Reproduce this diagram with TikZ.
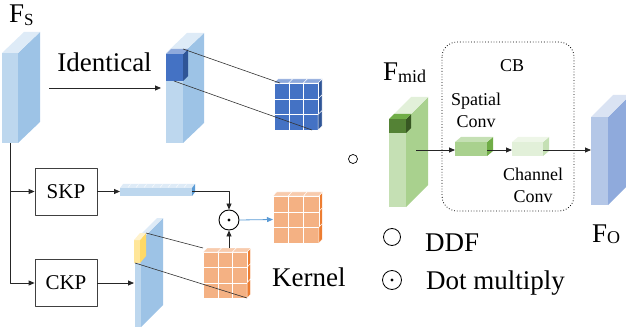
\documentclass[tikz,border=0pt]{standalone}
\usepackage{fontspec}
\setmainfont{Liberation Serif}
\usepackage{xcolor}
\usetikzlibrary{arrows.meta}
\usetikzlibrary{positioning,calc}

\definecolor{lbfront}{HTML}{BDD7EE}
\definecolor{lbside}{HTML}{9DC3E6}
\definecolor{lbtop}{HTML}{DEEBF7}
\definecolor{dbfront}{HTML}{4472C4}
\definecolor{dbside}{HTML}{2F5597}
\definecolor{dbtop}{HTML}{8FAADC}
\definecolor{orfront}{HTML}{F4B183}
\definecolor{orside}{HTML}{ED7D31}
\definecolor{ortop}{HTML}{F8CBAD}
\definecolor{yefront}{HTML}{FFE699}
\definecolor{yeside}{HTML}{FFD966}
\definecolor{yetop}{HTML}{FFF2CC}
\definecolor{grfront}{HTML}{C5E0B4}
\definecolor{grside}{HTML}{A9D18E}
\definecolor{grtop}{HTML}{E2F0D9}
\definecolor{gdfront}{HTML}{548235}
\definecolor{gdside}{HTML}{385723}
\definecolor{gdtop}{HTML}{70AD47}
\definecolor{pbfront}{HTML}{B4C7E7}
\definecolor{pbside}{HTML}{8FAADC}
\definecolor{pbtop}{HTML}{DAE3F3}
\definecolor{arrowblue}{HTML}{5B9BD5}

\begin{document}
\begin{tikzpicture}[x=1pt,y=-1pt,line join=round]
% -------------------------------------------------
% Styles
% -------------------------------------------------
\tikzset{
  cellline/.style={draw=white, line width=0.35pt},
  conn/.style={-{Triangle[length=6pt,width=5pt]}, line width=0.8pt, draw=black!85},
  proj/.style={draw=black!80, line width=0.6pt},
  opbox/.style={draw=black!75, line width=0.8pt, minimum width=62pt, minimum height=47pt, inner sep=0pt, font=\rmfamily\fontsize{21}{21}\selectfont},
  lbl/.style={font=\rmfamily\fontsize{27}{27}\selectfont, inner sep=0pt},
  smalllbl/.style={font=\rmfamily\fontsize{18}{22}\selectfont, inner sep=0pt, align=center},
  opcircle/.style={circle, draw=black, line width=0.9pt, inner sep=0pt},
}
\useasboundingbox (0,0) rectangle (626,331);
% -------------------------------------------------
% Input F_S and identical branch
% -------------------------------------------------
\fill[lbfront] (2,53) rectangle (18,143);
\fill[lbside] (18,53) -- (40,32) -- (40,122) -- (18,143) -- cycle;
\fill[lbtop] (2,53) -- (24,32) -- (40,32) -- (18,53) -- cycle;
\node[lbl, anchor=base west] (fs) at (9,23) {F{\fontsize{17}{17}\selectfont\raisebox{-3pt}{S}}};
\coordinate (fsfoot) at (10,143);

\node[lbl, anchor=base] (identical) at (104.5,72) {Identical};
\coordinate (idstart) at (49,88);
\coordinate (idend) at (161,88);
\draw[conn] (idstart) -- (idend);

\fill[lbfront] (166,53) rectangle (183,143);
\fill[lbside] (183,53) -- (204,33) -- (204,123) -- (183,143) -- cycle;
\fill[lbtop] (166,53) -- (187,33) -- (204,33) -- (183,53) -- cycle;
% picked patch
\fill[dbfront] (166,54) rectangle (183,81);
\fill[dbside] (183,54) -- (188,49) -- (188,76) -- (183,81) -- cycle;
\fill[dbtop] (166,54) -- (171,49) -- (188,49) -- (183,54) -- cycle;

% blue 3x3 grid
\begin{scope}[shift={(274,83)}]
\foreach \i in {0,1,2}{
  \foreach \j in {0,1,2}{
    \filldraw[fill=dbfront, cellline] (\i*14.7,\j*15.7) rectangle ++(14.7,15.7);
  }
  \filldraw[fill=dbtop, cellline] (\i*14.7,0) -- ++(4,-4) -- ++(14.7,0) -- ++(-4,4) -- cycle;
  \filldraw[fill=dbside, cellline] (44.1,\i*15.7) -- ++(4,-4) -- ++(0,15.7) -- ++(-4,4) -- cycle;
}
\end{scope}
\draw[proj] (183,49) -- (280,83);
\draw[proj] (174,81) -- (312,130);

% -------------------------------------------------
% SKP / CKP branches
% -------------------------------------------------
\node[opbox] (skp) at (66,191.5) {SKP};
\node[opbox] (ckp) at (66,283) {CKP};
\draw[conn] (fsfoot) |- (ckp.west);
\draw[conn] (fsfoot |- skp.west) -- (skp.west);

% spatial kernel bar
\fill[lbfront] (120,188) rectangle (192,196);
\fill[lbtop] (120,188) -- (123,184) -- (195,184) -- (192,188) -- cycle;
\fill[arrowblue] (192,188) -- (195,184) -- (195,192) -- (192,196) -- cycle;
\foreach \x in {128,136,...,184}{
  \draw[white, line width=0.4pt] (\x,187.5) -- ++(2.5,-3);
}
\coordinate (barin) at (120,191.5);
\coordinate (barout) at (192,191.5);
\draw[conn] (skp.east) -- (barin);

% channel kernel slab
\fill[lbfront] (135,240) rectangle (141,327);
\fill[lbside] (141,240) -- (163,218) -- (163,305) -- (141,327) -- cycle;
\fill[lbtop] (135,240) -- (157,218) -- (163,218) -- (141,240) -- cycle;
\fill[yefront] (134,240) rectangle (140,263);
\fill[yeside] (140,240) -- (146,233) -- (146,256) -- (140,263) -- cycle;
\fill[yetop] (134,240) -- (140,233) -- (146,233) -- (140,240) -- cycle;
\coordinate (ckpin) at (134,283);
\draw[conn] (ckp.east) -- (ckpin);

% lower orange grid
\begin{scope}[shift={(203,252)}]
\foreach \i in {0,1,2}{
  \foreach \j in {0,1,2}{
    \filldraw[fill=orfront, cellline] (\i*14.7,\j*15.4) rectangle ++(14.7,15.4);
  }
  \filldraw[fill=ortop, cellline] (\i*14.7,0) -- ++(4,-4) -- ++(14.7,0) -- ++(-4,4) -- cycle;
  \filldraw[fill=orside, cellline] (44.1,\i*15.4) -- ++(3.5,-4) -- ++(0,15.4) -- ++(-3.5,4) -- cycle;
}
\end{scope}
\coordinate (kgridtop) at (229,248);
\draw[proj] (146,233) -- (203,248);
\draw[proj] (135,263) -- (247,298);

% dot multiply and kernel
\node[opcircle, minimum size=20pt] (mul) at (229,220) {};
\fill (mul.center) circle (1.6pt);
\draw[conn] (barout) -| (mul.north);
\draw[conn] (kgridtop) -- (mul.south);

\begin{scope}[shift={(273,196)}]
\foreach \i in {0,1,2}{
  \foreach \j in {0,1,2}{
    \filldraw[fill=orfront, cellline] (\i*15.3,\j*15.7) rectangle ++(15.3,15.7);
  }
  \filldraw[fill=ortop, cellline] (\i*15.3,0) -- ++(3.5,-4) -- ++(15.3,0) -- ++(-3.5,4) -- cycle;
  \filldraw[fill=orside, cellline] (45.9,\i*15.7) -- ++(3.5,-4) -- ++(0,15.7) -- ++(-3.5,4) -- cycle;
}
\end{scope}
\coordinate (kernelin) at (273,219.5);
\draw[conn, draw=arrowblue] (mul.east) -- (kernelin);
\node[lbl, anchor=base west] (kernel) at (272,286) {Kernel};

% -------------------------------------------------
% DDF marker and legend
% -------------------------------------------------
\node[opcircle, line width=0.7pt, minimum size=9pt] (ddfmark) at (353,159) {};

\node[opcircle, line width=0.8pt, minimum size=17pt] (legddf) at (392,237) {};
\node[lbl, anchor=base west] (ddftext) at (425,251) {DDF};
\node[opcircle, line width=0.8pt, minimum size=19pt] (legmul) at (392,280) {};
\fill (legmul.center) circle (1.6pt);
\node[lbl, anchor=base west] (multext) at (426,289) {Dot multiply};

% -------------------------------------------------
% F_mid, CB, F_O
% -------------------------------------------------
\node[lbl, anchor=base west] (fmid) at (383,81) {F{\fontsize{18}{18}\selectfont\raisebox{-2pt}{mid}}};
\fill[grfront] (389,119) rectangle (406,207);
\fill[grside] (406,119) -- (428,97) -- (428,185) -- (406,207) -- cycle;
\fill[grtop] (389,119) -- (411,97) -- (428,97) -- (406,119) -- cycle;
\fill[gdfront] (389,119) rectangle (406,133);
\fill[gdside] (406,119) -- (411,114) -- (411,128) -- (406,133) -- cycle;
\fill[gdtop] (389,119) -- (394,114) -- (411,114) -- (406,119) -- cycle;
\coordinate (fmidout) at (416,150);

\draw[dotted, line width=0.8pt, rounded corners=15pt] (442,42) rectangle (574,211);
\node[smalllbl, anchor=base] (cb) at (512,72) {CB};

% spatial conv
\fill[grside] (455,142) rectangle (487,156);
\fill[gdtop] (487,142) -- (493,137) -- (493,151) -- (487,156) -- cycle;
\fill[grfront] (455,142) -- (461,137) -- (493,137) -- (487,142) -- cycle;
\node[smalllbl, anchor=north] (spatial) at (476,92.5) {Spatial\\Conv};
% channel conv
\fill[grtop] (512,142) rectangle (543,156);
\fill[grfront] (543,142) -- (549,137) -- (549,151) -- (543,156) -- cycle;
\fill[grtop!60] (512,142) -- (518,137) -- (549,137) -- (543,142) -- cycle;
\node[smalllbl, anchor=north] (channel) at (533,167.5) {Channel\\Conv};

\coordinate (spin) at (455,150);
\coordinate (spout) at (487,150);
\coordinate (chin) at (512,150);
\coordinate (chout) at (543,150);

\fill[pbfront] (591,117) rectangle (608,205);
\fill[pbside] (608,117) -- (630,95) -- (630,183) -- (608,205) -- cycle;
\fill[pbtop] (591,117) -- (613,95) -- (630,95) -- (608,117) -- cycle;
\coordinate (foin) at (591,150);
\node[lbl, anchor=base west] (fo) at (592,242) {F{\fontsize{18}{18}\selectfont\raisebox{-1pt}{O}}};

\draw[conn] (fmidout) -- (spin);
\draw[conn] (spout) -- (chin);
\draw[conn] (chout) -- (foin);

\end{tikzpicture}
\end{document}
